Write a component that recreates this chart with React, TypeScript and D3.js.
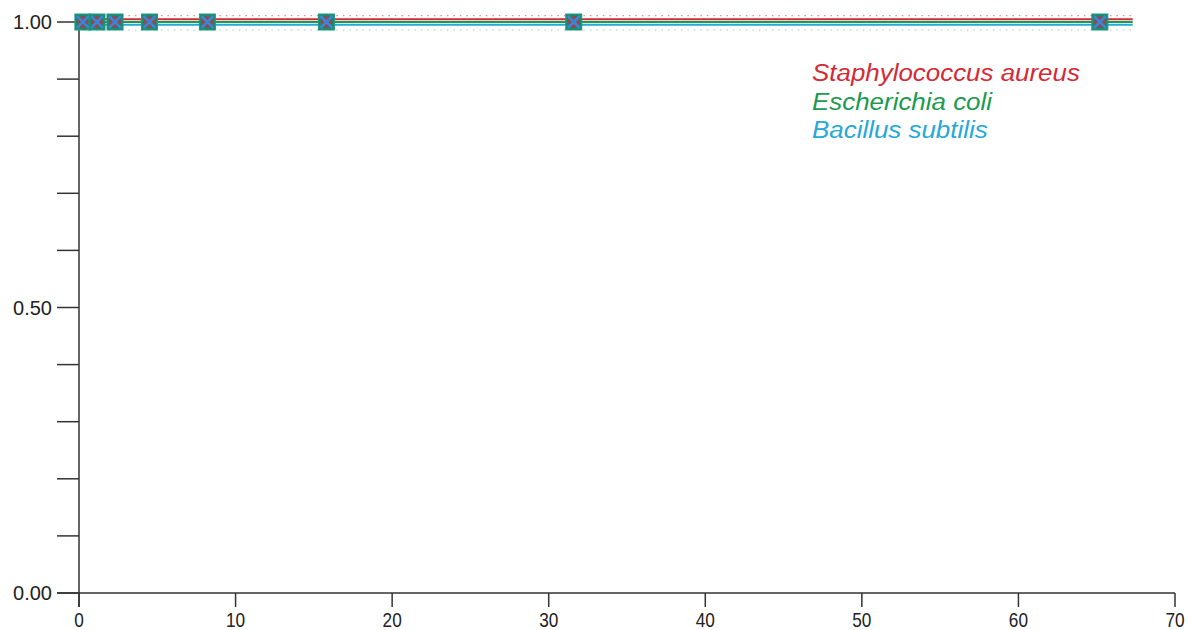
import React from "react";
import * as d3 from "d3";

const doseX = [0.25, 1.15, 2.3, 4.5, 8.2, 15.8, 31.6, 65.2];
const saValues = [1, 1, 1, 1, 1, 1, 1, 1];
const ecValues = [1, 1, 1, 1, 1, 1, 1, 1];
const bsValues = [1, 1, 1, 1, 1, 1, 1, 1];
const fitRange = [0.25, 67.3];
const saFit = 1.005;
const ecFit = 1.0;
const bsFit = 0.995;
const saBandUpper = 1.011;
const bsBandLower = 0.986;
const xTicks = [0, 10, 20, 30, 40, 50, 60, 70];
const yTicks = [0, 0.1, 0.2, 0.3, 0.4, 0.5, 0.6, 0.7, 0.8, 0.9, 1.0];
const yLabelTicks = [0, 0.5, 1.0];
const legendNames = ["Staphylococcus aureus", "Escherichia coli", "Bacillus subtilis"];
const seriesColors = ["#d42a35", "#1b9a50", "#26a8d8"];

export default function App() {
  const W = 1188, H = 630;
  const x = d3.scaleLinear().domain([0, 70]).range([79, 1175]);
  const y = d3.scaleLinear().domain([0, 1]).range([593, 22]);
  const axisColor = "#333";
  const font = "'Liberation Sans', Arial, sans-serif";
  const line = (v: number) =>
    d3.line<number>().x((d) => x(d)).y(() => y(v))(fitRange) || "";

  return (
    <svg width={W} height={H} style={{ position: "absolute", left: 0, top: 0, background: "#fff" }}>
      {/* bands */}
      <path d={line(saBandUpper)} stroke="#e88a90" strokeWidth={1.2} strokeDasharray="1.5,5" fill="none" />
      <path d={line(bsBandLower)} stroke="#8fd0ea" strokeWidth={1.2} strokeDasharray="1.5,5" fill="none" />
      {/* fits */}
      <path d={line(saFit)} stroke={seriesColors[0]} strokeWidth={2} fill="none" />
      <path d={line(ecFit)} stroke={seriesColors[1]} strokeWidth={2} fill="none" />
      <path d={line(bsFit)} stroke={seriesColors[2]} strokeWidth={2} fill="none" />

      {/* axes */}
      <line x1={x(0)} x2={x(0)} y1={y(1) - 4} y2={y(0) + 14} stroke={axisColor} strokeWidth={1.5} />
      <line x1={x(0) - 22} x2={x(70)} y1={y(0)} y2={y(0)} stroke={axisColor} strokeWidth={1.5} />
      {yTicks.map((t) => (
        <line key={"yt" + t} x1={x(0) - 22} x2={x(0)} y1={y(t)} y2={y(t)} stroke={axisColor} strokeWidth={1.5} />
      ))}
      {yLabelTicks.map((t) => (
        <text key={"yl" + t} x={x(0) - 27} y={y(t)} dy="0.35em" textAnchor="end" fontFamily={font} fontSize={20} fill="#222">
          {d3.format(".2f")(t)}
        </text>
      ))}
      {xTicks.map((t) => (
        <g key={"xt" + t}>
          <line x1={x(t)} x2={x(t)} y1={y(0)} y2={y(0) + 14} stroke={axisColor} strokeWidth={1.5} />
          <text
            transform={`translate(${x(t)},${y(0) + 34}) scale(0.82,1)`}
            textAnchor="middle"
            fontFamily={font}
            fontSize={21}
            fill="#222"
          >
            {t}
          </text>
        </g>
      ))}

      {/* markers */}
      {doseX.map((d, i) => (
        <g key={"m" + i}>
          <rect x={x(d) - 8} y={y(ecValues[i]) - 8} width={16} height={16} fill="#1a8a6c" stroke="#1f9a80" strokeWidth={1} />
          <circle cx={x(d)} cy={y(saValues[i])} r={6} fill="#b8334a" opacity={0.75} />
          <path
            d={`M${x(d) - 6},${y(bsValues[i]) - 6}L${x(d) + 6},${y(bsValues[i]) + 6}M${x(d) - 6},${y(bsValues[i]) + 6}L${x(d) + 6},${y(bsValues[i]) - 6}`}
            stroke="#3a86d6"
            strokeWidth={2.5}
          />
        </g>
      ))}

      {/* legend */}
      {legendNames.map((n, i) => (
        <text
          key={n}
          transform={`translate(812,${81 + i * 28.5}) scale(1.08,1)`}
          fontFamily={font}
          fontStyle="italic"
          fontSize={24}
          fill={seriesColors[i]}
        >
          {n}
        </text>
      ))}
    </svg>
  );
}
